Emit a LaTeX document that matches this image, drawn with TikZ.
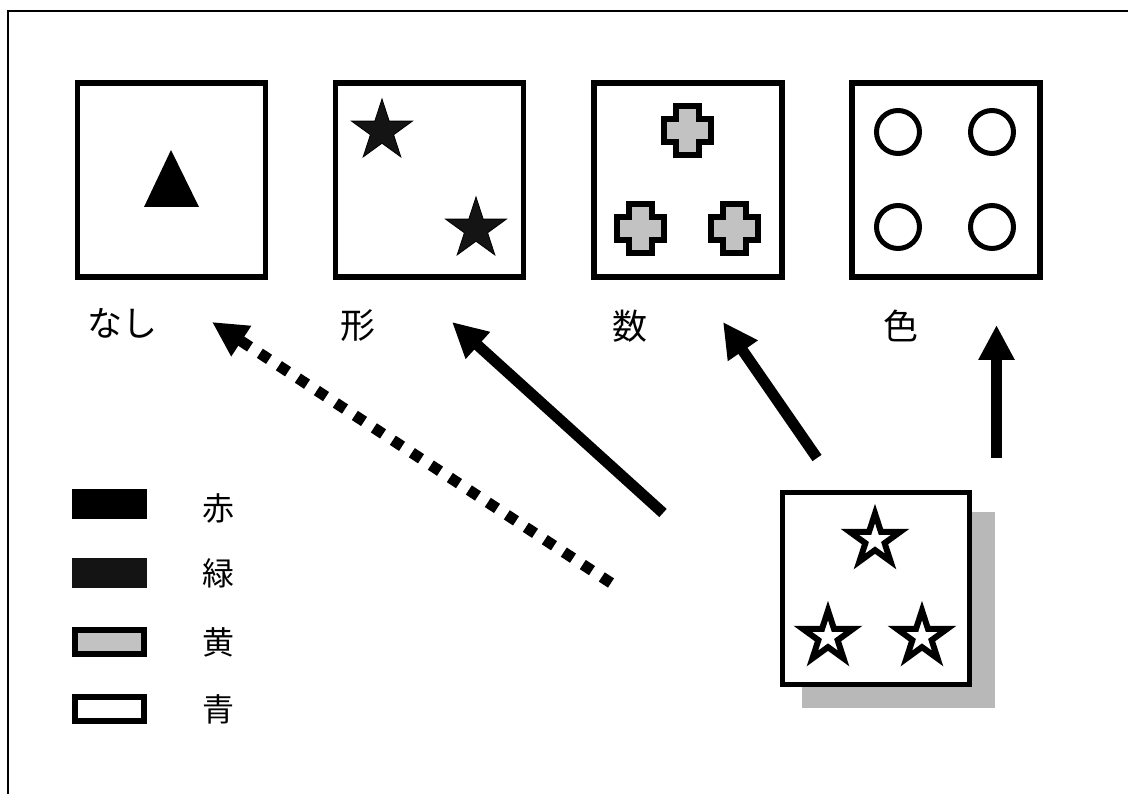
\documentclass[tikz,border=0pt]{standalone}
\usepackage{fontspec}
\newfontfamily\cjk{Noto Sans CJK JP}
\usetikzlibrary{shapes.geometric,arrows.meta}
\definecolor{grn}{gray}{0.08}
\definecolor{yel}{gray}{0.76}
\definecolor{shadowgray}{gray}{0.72}
\tikzset{
  box/.style={draw,line width=5.5pt,minimum width=188pt,minimum height=194pt,inner sep=0pt,fill=white},
  toplbl/.style={font=\cjk\fontsize{35}{35}\selectfont,inner sep=0pt},
  leglbl/.style={font=\cjk\fontsize{32}{32}\selectfont,inner sep=0pt},
  fstar/.style={star,star points=5,star point ratio=2.618,minimum size=64pt,inner sep=0pt,fill=grn,draw=black,line width=0.8pt},
  ostar/.style={star,star points=5,star point ratio=2.618,minimum size=53pt,inner sep=0pt,fill=white,draw=black,line width=6pt,line join=miter},
  arr/.style={line width=11pt,-{Triangle[length=35pt,width=34pt]}},
  dotarr/.style={arr,dash pattern=on 11pt off 11.7pt},
  legrect/.style={minimum width=75pt,minimum height=30pt,inner sep=0pt},
  legrecto/.style={draw,line width=6pt,minimum width=69pt,minimum height=24pt,inner sep=0pt},
  cross/.pic={\draw[line width=6pt,fill=yel,line join=miter]
    (-11.5,-24.5) -- (11.5,-24.5) -- (11.5,-11.5) -- (23.5,-11.5) -- (23.5,11.5) -- (11.5,11.5)
    -- (11.5,24.5) -- (-11.5,24.5) -- (-11.5,11.5) -- (-23.5,11.5) -- (-23.5,-11.5) -- (-11.5,-11.5) -- cycle;}
}
\begin{document}
\begin{tikzpicture}[x=1pt,y=-1pt]
\useasboundingbox[fill=white] (0,0) rectangle (1128,794);
% frame
\draw[line width=2.5pt] (8,794) -- (8,11) -- (1128,11);
% top boxes
\node[box] (b1) at (171.5,180) {};
\node[box] (b2) at (429.5,180) {};
\node[box] (b3) at (688,180) {};
\node[box] (b4) at (946,180) {};
% box 1 content
\fill (171,150) -- (199,207) -- (144,207) -- cycle;
% box 2 content
\node[fstar] (s1) at (382,131) {};
\node[fstar] (s2) at (476,229) {};
% box 3 content
\pic at (687,131) {cross};
\pic at (640,229) {cross};
\pic at (734,229) {cross};
% box 4 content
\foreach \cx/\cy in {898/132,992/132,898/227,992/227}
  \draw[line width=5pt] (\cx,\cy) circle[radius=21.5];
% labels
\node[toplbl] (l1) at (122,323) {なし};
\node[toplbl] (l2) at (358,326) {形};
\node[toplbl] (l3) at (630,326) {数};
\node[toplbl] (l4) at (901,326) {色};
% source box with shadow
\fill[shadowgray] (802,512) rectangle (995,708);
\node[box,minimum width=187pt,minimum height=192pt] (src) at (876,588.5) {};
\node[ostar] (t1) at (875,540) {};
\node[ostar] (t2) at (828,637) {};
\node[ostar] (t3) at (922,637) {};
% arrows
\coordinate (a1s) at (611,583); \coordinate (a1e) at (212,322);
\coordinate (a2s) at (663,513); \coordinate (a2e) at (452,322);
\coordinate (a3s) at (817,458); \coordinate (a3e) at (723,322);
\coordinate (a4s) at (996.5,458); \coordinate (a4e) at (996.5,325);
\draw[dotarr] (a1s) -- (a1e);
\draw[arr] (a2s) -- (a2e);
\draw[arr] (a3s) -- (a3e);
\draw[arr] (a4s) -- (a4e);
% legend
\node[legrect,fill=black] (r1) at (109.5,504) {};
\node[legrect,fill=grn] (r2) at (109.5,573) {};
\node[legrecto,fill=yel] (r3) at (109.5,642) {};
\node[legrecto,fill=white] (r4) at (109.5,709) {};
\node[leglbl] (k1) at (218,508) {赤};
\node[leglbl] (k2) at (218,573) {緑};
\node[leglbl] (k3) at (218,642) {黄};
\node[leglbl] (k4) at (218,709) {青};
\end{tikzpicture}
\end{document}
